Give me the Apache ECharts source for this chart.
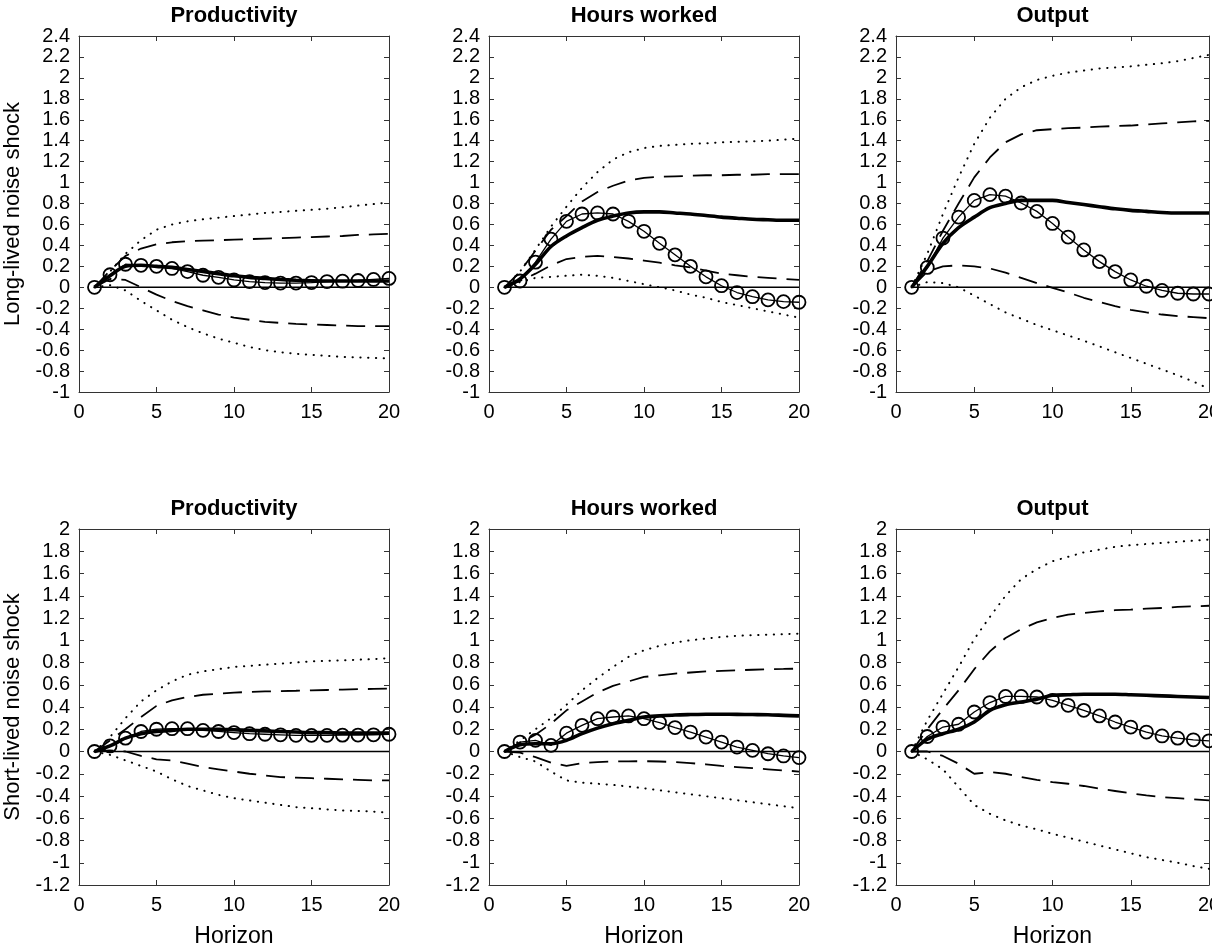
<!DOCTYPE html>
<html>
<head>
<meta charset="utf-8">
<script src="https://cdn.jsdelivr.net/npm/echarts@6/dist/echarts.min.js"></script>
<style>
  html, body { margin: 0; padding: 0; background: #fff; }
  #chart { width: 1212px; height: 952px; }
</style>
</head>
<body>
<div id="chart"></div>
<script>
// Impulse responses over a 20-quarter horizon
const horizon = [1, 2, 3, 4, 5, 6, 7, 8, 9, 10, 11, 12, 13, 14, 15, 16, 17, 18, 19, 20];
const xTicks = [0, 5, 10, 15, 20];
const rowLabels = ['Long-lived noise shock', 'Short-lived noise shock'];
const panelTitles = ['Productivity', 'Hours worked', 'Output'];

// Long-lived noise shock: productivity
const prodLongMedian = [0, 0.11, 0.2, 0.21, 0.2, 0.19, 0.17, 0.15, 0.13, 0.11, 0.095, 0.085, 0.075, 0.068, 0.063, 0.06, 0.06, 0.06, 0.06, 0.06];
const prodLongModel  = [0, 0.12, 0.22, 0.21, 0.2, 0.18, 0.15, 0.115, 0.095, 0.07, 0.055, 0.045, 0.04, 0.04, 0.045, 0.055, 0.058, 0.065, 0.075, 0.085];
const prodLongHi68   = [0, 0.16, 0.3, 0.37, 0.41, 0.43, 0.44, 0.445, 0.45, 0.455, 0.46, 0.465, 0.47, 0.475, 0.48, 0.485, 0.49, 0.5, 0.505, 0.51];
const prodLongLo68   = [0, 0.08, 0.07, 0.0, -0.07, -0.13, -0.18, -0.22, -0.26, -0.29, -0.31, -0.33, -0.34, -0.35, -0.355, -0.36, -0.365, -0.37, -0.37, -0.37];
const prodLongHi90   = [0, 0.15, 0.32, 0.45, 0.55, 0.6, 0.63, 0.65, 0.665, 0.68, 0.695, 0.71, 0.72, 0.73, 0.74, 0.75, 0.765, 0.78, 0.795, 0.81];
const prodLongLo90   = [0, 0.02, -0.03, -0.13, -0.22, -0.31, -0.38, -0.44, -0.49, -0.53, -0.57, -0.6, -0.62, -0.635, -0.645, -0.655, -0.665, -0.67, -0.675, -0.68];

// Long-lived noise shock: hours worked
const hoursLongMedian = [0, 0.08, 0.22, 0.39, 0.49, 0.57, 0.64, 0.68, 0.71, 0.72, 0.72, 0.71, 0.7, 0.685, 0.67, 0.66, 0.65, 0.645, 0.64, 0.64];
const hoursLongModel  = [0, 0.06, 0.24, 0.46, 0.63, 0.7, 0.71, 0.7, 0.63, 0.535, 0.42, 0.31, 0.2, 0.1, 0.015, -0.05, -0.09, -0.12, -0.137, -0.143];
const hoursLongHi68   = [0, 0.15, 0.35, 0.55, 0.68, 0.82, 0.91, 0.97, 1.02, 1.045, 1.055, 1.06, 1.065, 1.07, 1.07, 1.075, 1.075, 1.08, 1.08, 1.08];
const hoursLongLo68   = [0, 0.06, 0.13, 0.21, 0.27, 0.29, 0.3, 0.29, 0.275, 0.255, 0.235, 0.21, 0.19, 0.16, 0.13, 0.115, 0.1, 0.09, 0.08, 0.07];
const hoursLongHi90   = [0, 0.15, 0.36, 0.58, 0.77, 0.95, 1.1, 1.22, 1.29, 1.33, 1.35, 1.36, 1.37, 1.375, 1.385, 1.39, 1.395, 1.4, 1.41, 1.42];
const hoursLongLo90   = [0, 0.05, 0.09, 0.1, 0.11, 0.12, 0.11, 0.09, 0.06, 0.03, 0.0, -0.03, -0.07, -0.1, -0.14, -0.17, -0.2, -0.23, -0.26, -0.29];

// Long-lived noise shock: output
const outLongMedian = [0, 0.2, 0.42, 0.57, 0.67, 0.76, 0.8, 0.83, 0.83, 0.83, 0.81, 0.79, 0.77, 0.75, 0.735, 0.725, 0.715, 0.71, 0.71, 0.71];
const outLongModel  = [0, 0.19, 0.47, 0.67, 0.83, 0.885, 0.87, 0.805, 0.725, 0.61, 0.48, 0.357, 0.245, 0.15, 0.07, 0.01, -0.03, -0.057, -0.064, -0.064];
const outLongHi68   = [0, 0.25, 0.54, 0.8, 1.05, 1.24, 1.385, 1.46, 1.5, 1.51, 1.52, 1.525, 1.535, 1.54, 1.545, 1.555, 1.565, 1.575, 1.585, 1.59];
const outLongLo68   = [0, 0.15, 0.2, 0.21, 0.2, 0.18, 0.14, 0.09, 0.04, -0.005, -0.05, -0.1, -0.14, -0.18, -0.215, -0.24, -0.26, -0.275, -0.285, -0.295];
const outLongHi90   = [0, 0.32, 0.7, 1.05, 1.37, 1.62, 1.8, 1.91, 1.98, 2.02, 2.05, 2.07, 2.09, 2.1, 2.11, 2.125, 2.14, 2.16, 2.19, 2.22];
const outLongLo90   = [0, 0.05, 0.04, 0.0, -0.08, -0.16, -0.24, -0.3, -0.36, -0.41, -0.46, -0.51, -0.565, -0.62, -0.675, -0.73, -0.785, -0.84, -0.9, -0.97];

// Short-lived noise shock: productivity
const prodShortMedian = [0, 0.05, 0.12, 0.16, 0.18, 0.19, 0.2, 0.2, 0.2, 0.195, 0.19, 0.185, 0.18, 0.175, 0.17, 0.17, 0.165, 0.165, 0.165, 0.165];
const prodShortModel  = [0, 0.05, 0.12, 0.18, 0.2, 0.205, 0.205, 0.19, 0.18, 0.17, 0.16, 0.155, 0.15, 0.145, 0.145, 0.145, 0.147, 0.148, 0.15, 0.155];
const prodShortHi68   = [0, 0.1, 0.2, 0.31, 0.41, 0.46, 0.49, 0.51, 0.52, 0.53, 0.535, 0.54, 0.543, 0.546, 0.55, 0.553, 0.556, 0.56, 0.563, 0.565];
const prodShortLo68   = [0, 0.01, 0.0, -0.04, -0.07, -0.08, -0.11, -0.14, -0.16, -0.18, -0.2, -0.215, -0.23, -0.235, -0.24, -0.245, -0.25, -0.255, -0.26, -0.26];
const prodShortHi90   = [0, 0.13, 0.3, 0.45, 0.55, 0.63, 0.69, 0.72, 0.74, 0.76, 0.77, 0.78, 0.79, 0.8, 0.81, 0.815, 0.82, 0.825, 0.83, 0.84];
const prodShortLo90   = [0, -0.03, -0.08, -0.13, -0.18, -0.25, -0.31, -0.35, -0.39, -0.42, -0.44, -0.46, -0.48, -0.5, -0.51, -0.52, -0.53, -0.535, -0.54, -0.55];

// Short-lived noise shock: hours worked
const hoursShortMedian = [0, 0.06, 0.07, 0.07, 0.1, 0.16, 0.21, 0.25, 0.28, 0.31, 0.32, 0.328, 0.332, 0.335, 0.335, 0.334, 0.332, 0.33, 0.325, 0.32];
const hoursShortModel  = [0, 0.085, 0.1, 0.055, 0.165, 0.235, 0.295, 0.31, 0.32, 0.295, 0.26, 0.215, 0.175, 0.13, 0.085, 0.04, 0.01, -0.02, -0.04, -0.055];
const hoursShortHi68   = [0, 0.08, 0.15, 0.25, 0.37, 0.45, 0.53, 0.59, 0.63, 0.67, 0.685, 0.7, 0.71, 0.72, 0.725, 0.73, 0.735, 0.74, 0.742, 0.745];
const hoursShortLo68   = [0, -0.01, -0.05, -0.1, -0.13, -0.105, -0.095, -0.09, -0.088, -0.087, -0.09, -0.095, -0.105, -0.115, -0.13, -0.14, -0.15, -0.16, -0.17, -0.18];
const hoursShortHi90   = [0, 0.1, 0.2, 0.3, 0.42, 0.55, 0.66, 0.76, 0.85, 0.91, 0.95, 0.98, 1.0, 1.015, 1.03, 1.04, 1.045, 1.05, 1.055, 1.06];
const hoursShortLo90   = [0, -0.05, -0.09, -0.18, -0.26, -0.28, -0.29, -0.3, -0.315, -0.33, -0.348, -0.366, -0.384, -0.402, -0.42, -0.438, -0.456, -0.474, -0.492, -0.51];

// Short-lived noise shock: output
const outShortMedian = [0, 0.11, 0.16, 0.2, 0.265, 0.37, 0.42, 0.445, 0.47, 0.505, 0.51, 0.515, 0.515, 0.515, 0.51, 0.505, 0.5, 0.495, 0.49, 0.485];
const outShortModel  = [0, 0.135, 0.22, 0.245, 0.355, 0.44, 0.495, 0.495, 0.49, 0.46, 0.415, 0.37, 0.32, 0.265, 0.22, 0.175, 0.14, 0.12, 0.105, 0.096];
const outShortHi68   = [0, 0.2, 0.38, 0.55, 0.74, 0.9, 1.02, 1.1, 1.16, 1.2, 1.23, 1.245, 1.26, 1.27, 1.275, 1.285, 1.29, 1.3, 1.305, 1.31];
const outShortLo68   = [0, 0.0, -0.04, -0.11, -0.2, -0.185, -0.2, -0.23, -0.255, -0.275, -0.29, -0.31, -0.335, -0.355, -0.375, -0.395, -0.41, -0.42, -0.43, -0.44];
const outShortHi90   = [0, 0.28, 0.52, 0.76, 1.01, 1.21, 1.4, 1.55, 1.64, 1.71, 1.75, 1.79, 1.815, 1.84, 1.855, 1.865, 1.875, 1.885, 1.895, 1.905];
const outShortLo90   = [0, -0.07, -0.16, -0.32, -0.48, -0.56, -0.62, -0.665, -0.7, -0.74, -0.775, -0.81, -0.845, -0.88, -0.915, -0.95, -0.975, -1.0, -1.03, -1.055];

// Vertical ranges of the two rows
const yRangeLong = [-1, 2.4];
const yRangeShort = [-1.2, 2];

const panels = [
  { row: 0, col: 0, median: prodLongMedian,  model: prodLongModel,  hi68: prodLongHi68,  lo68: prodLongLo68,  hi90: prodLongHi90,  lo90: prodLongLo90 },
  { row: 0, col: 1, median: hoursLongMedian, model: hoursLongModel, hi68: hoursLongHi68, lo68: hoursLongLo68, hi90: hoursLongHi90, lo90: hoursLongLo90 },
  { row: 0, col: 2, median: outLongMedian,   model: outLongModel,   hi68: outLongHi68,   lo68: outLongLo68,   hi90: outLongHi90,   lo90: outLongLo90 },
  { row: 1, col: 0, median: prodShortMedian,  model: prodShortModel,  hi68: prodShortHi68,  lo68: prodShortLo68,  hi90: prodShortHi90,  lo90: prodShortLo90 },
  { row: 1, col: 1, median: hoursShortMedian, model: hoursShortModel, hi68: hoursShortHi68, lo68: hoursShortLo68, hi90: hoursShortHi90, lo90: hoursShortLo90 },
  { row: 1, col: 2, median: outShortMedian,   model: outShortModel,   hi68: outShortHi68,   lo68: outShortLo68,   hi90: outShortHi90,   lo90: outShortLo90 }
];

// Layout of the 2 x 3 grid of axes
const colLeft = [79, 489, 896];
const colWidth = [310, 310, 313];
const rowTop = [36, 529];
const plotHeight = 356;

const FONT = "'Liberation Sans', Arial, Helvetica, sans-serif";
const INK = '#000';
const FRAME = '#333';

const pairs = (ys) => horizon.map((h, i) => [h, ys[i]]);

const grids = [], xAxes = [], yAxes = [], series = [], titles = [];

panels.forEach((p, i) => {
  const yr = p.row === 0 ? yRangeLong : yRangeShort;
  grids.push({
    left: colLeft[p.col], top: rowTop[p.row],
    width: colWidth[p.col], height: plotHeight,
    show: false, containLabel: false, outerBoundsMode: 'none'
  });

  const tickCommon = { show: true, inside: true, length: 5, lineStyle: { color: FRAME, width: 1 } };
  const lineCommon = { show: true, onZero: false, lineStyle: { color: FRAME, width: 1 } };

  xAxes.push({
    gridIndex: i, type: 'value', position: 'bottom',
    min: xTicks[0], max: xTicks[xTicks.length - 1], interval: 5,
    axisLine: lineCommon, axisTick: tickCommon, splitLine: { show: false },
    axisLabel: { color: INK, fontFamily: FONT, fontSize: 20, margin: 10 },
    name: p.row === 1 ? 'Horizon' : '', nameLocation: 'middle', nameGap: 40,
    nameTextStyle: { color: INK, fontFamily: FONT, fontSize: 23 }
  });
  xAxes.push({
    gridIndex: i, type: 'value', position: 'top',
    min: xTicks[0], max: xTicks[xTicks.length - 1], interval: 5,
    axisLine: lineCommon, axisTick: tickCommon, splitLine: { show: false },
    axisLabel: { show: false }
  });
  yAxes.push({
    gridIndex: i, type: 'value', position: 'left',
    min: yr[0], max: yr[1], interval: 0.2,
    axisLine: lineCommon, axisTick: tickCommon, splitLine: { show: false },
    axisLabel: { color: INK, fontFamily: FONT, fontSize: 20, margin: 9 },
    name: p.col === 0 ? rowLabels[p.row] : '', nameLocation: 'middle', nameGap: 55,
    nameTextStyle: { color: INK, fontFamily: FONT, fontSize: 22 }
  });
  yAxes.push({
    gridIndex: i, type: 'value', position: 'right',
    min: yr[0], max: yr[1], interval: 0.2,
    axisLine: lineCommon, axisTick: tickCommon, splitLine: { show: false },
    axisLabel: { show: false }
  });

  const ax = { xAxisIndex: 2 * i, yAxisIndex: 2 * i };
  const base = { type: 'line', showSymbol: false, silent: true, animation: false, ...ax };

  // zero reference line
  series.push({ ...base, data: pairs(horizon.map(() => 0)), lineStyle: { color: INK, width: 1.5 }, z: 2 });
  // outer (dotted) bands
  series.push({ ...base, data: pairs(p.hi90), lineStyle: { color: INK, width: 2, type: [0.3, 7.5], cap: 'round' }, z: 3 });
  series.push({ ...base, data: pairs(p.lo90), lineStyle: { color: INK, width: 2, type: [0.3, 7.5], cap: 'round' }, z: 3 });
  // inner (dashed) bands
  series.push({ ...base, data: pairs(p.hi68), lineStyle: { color: INK, width: 1.8, type: [19, 10] }, z: 3 });
  series.push({ ...base, data: pairs(p.lo68), lineStyle: { color: INK, width: 1.8, type: [19, 10] }, z: 3 });
  // median response
  series.push({ ...base, data: pairs(p.median), smooth: 0.3, lineStyle: { color: INK, width: 3.6 }, z: 4 });
  // model response with circle markers
  series.push({
    ...base, data: pairs(p.model), showSymbol: true, symbol: 'circle', symbolSize: 13, clip: false,
    itemStyle: { color: 'rgba(0,0,0,0)', borderColor: INK, borderWidth: 1.8 },
    lineStyle: { color: INK, width: 1.3 }, z: 5
  });

  titles.push({
    text: panelTitles[p.col],
    left: colLeft[p.col] + colWidth[p.col] / 2, top: rowTop[p.row] - 31,
    textAlign: 'center', padding: 0,
    textStyle: { color: INK, fontFamily: FONT, fontSize: 22, fontWeight: 'bold' }
  });
});

const chart = echarts.init(document.getElementById('chart'), null, { renderer: 'canvas' });
chart.setOption({
  backgroundColor: '#fff',
  animation: false,
  title: titles,
  grid: grids,
  xAxis: xAxes,
  yAxis: yAxes,
  series: series
});
</script>
</body>
</html>
